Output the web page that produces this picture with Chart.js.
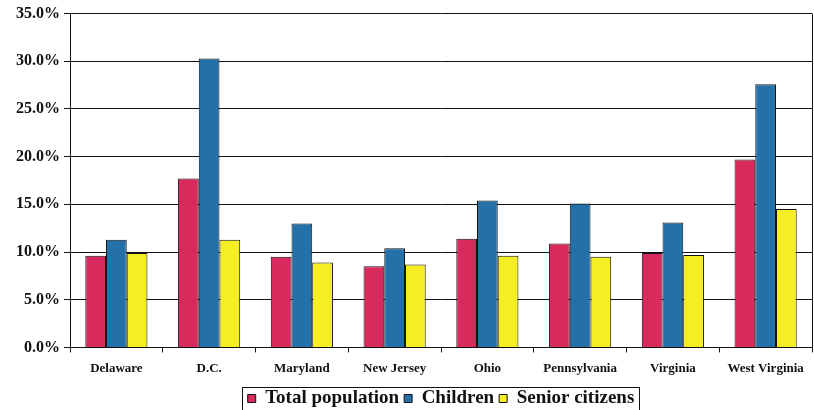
<!DOCTYPE html>
<html>
<head>
<meta charset="utf-8">
<script src="https://cdn.jsdelivr.net/npm/chart.js@4/dist/chart.umd.min.js"></script>
<style>
  html, body { margin: 0; padding: 0; background: #fff; }
  #wrap { width: 814px; height: 410px; }
</style>
</head>
<body>
<div id="wrap"><canvas id="c" width="814" height="410"></canvas></div>
<script>
// Share of people below the poverty line, by state and age group (percent)
const states = ['Delaware', 'D.C.', 'Maryland', 'New Jersey', 'Ohio', 'Pennsylvania', 'Virginia', 'West Virginia'];
const totalPopulation = [9.6, 17.7, 9.5, 8.5, 11.4, 10.9, 9.9, 19.7];
const children        = [11.3, 30.3, 13.0, 10.4, 15.4, 15.1, 13.1, 27.6];
const seniorCitizens  = [9.9, 11.3, 8.9, 8.7, 9.6, 9.5, 9.7, 14.5];
const seriesNames = ['Total population', 'Children', 'Senior citizens'];
const yTicks = [0, 5, 10, 15, 20, 25, 30, 35];

const serif = "'Liberation Serif', 'Times New Roman', serif";

// Frame the plot on the right and box the legend
const framePlugin = {
  id: 'frame',
  afterDraw(chart) {
    const ctx = chart.ctx;
    const a = chart.chartArea;
    ctx.save();
    ctx.strokeStyle = '#111';
    ctx.lineWidth = 1;
    ctx.beginPath();
    ctx.moveTo(Math.round(a.right) + 0.5, a.top);
    ctx.lineTo(Math.round(a.right) + 0.5, a.bottom);
    ctx.stroke();
    const hb = chart.legend.legendHitBoxes;
    if (hb && hb.length) {
      let x0 = Infinity, y0 = Infinity, x1 = -Infinity, y1 = -Infinity;
      hb.forEach(b => {
        x0 = Math.min(x0, b.left); y0 = Math.min(y0, b.top);
        x1 = Math.max(x1, b.left + b.width); y1 = Math.max(y1, b.top + b.height);
      });
      ctx.strokeRect(Math.round(x0 - 6) + 0.5, Math.round(y0 - 2) + 0.5,
                     Math.round(x1 - x0 + 10), Math.round(y1 - y0 + 8));
    }
    ctx.restore();
  }
};

new Chart(document.getElementById('c'), {
  type: 'bar',
  data: {
    labels: states,
    datasets: [
      { label: seriesNames[0], data: totalPopulation, backgroundColor: '#d82a5c' },
      { label: seriesNames[1], data: children, backgroundColor: '#2371a8' },
      { label: seriesNames[2], data: seniorCitizens, backgroundColor: '#f6ee24' }
    ].map(d => Object.assign(d, { borderColor: '#111', borderWidth: 1, borderSkipped: 'bottom' }))
  },
  options: {
    responsive: false,
    animation: false,
    devicePixelRatio: 1,
    layout: { padding: { top: 13, right: 2, left: 12, bottom: -8 } },
    datasets: { bar: { categoryPercentage: 0.67, barPercentage: 1.0 } },
    scales: {
      x: {
        grid: { drawOnChartArea: false, drawTicks: true, tickLength: 5, color: '#111' },
        border: { color: '#111', width: 1 },
        ticks: { color: '#111', font: { family: serif, size: 13, weight: 'bold' }, padding: 8, maxRotation: 0 }
      },
      y: {
        min: 0, max: 35,
        afterBuildTicks(scale) { scale.ticks = yTicks.map(v => ({ value: v })); },
        grid: { color: '#111', lineWidth: 1, tickLength: 6 },
        border: { color: '#111', width: 1 },
        ticks: {
          color: '#111', padding: 4,
          font: { family: serif, size: 16, weight: 'bold' },
          callback: v => v.toFixed(1) + '%'
        }
      }
    },
    plugins: {
      legend: {
        position: 'bottom',
        fullSize: false,
        labels: {
          color: '#111',
          font: { family: serif, size: 19, weight: 'bold' },
          boxWidth: 8, boxHeight: 8, padding: 5
        }
      },
      tooltip: { enabled: false }
    }
  },
  plugins: [framePlugin]
});
</script>
</body>
</html>
